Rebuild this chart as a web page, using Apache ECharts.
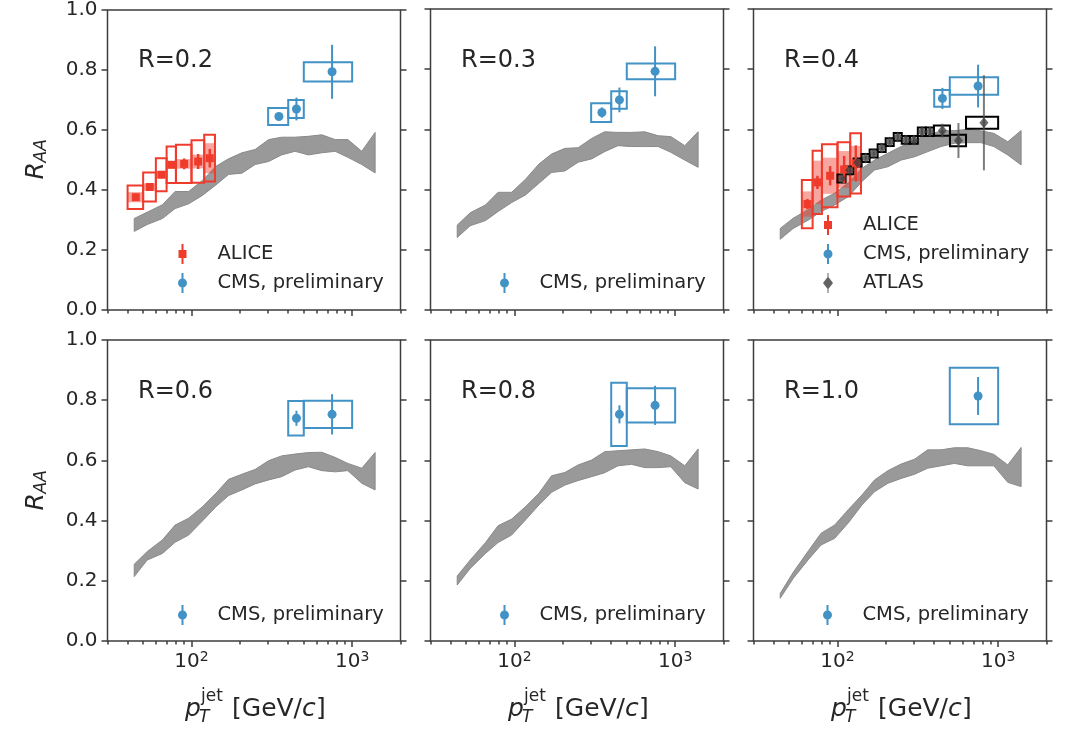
<!DOCTYPE html>
<html><head><meta charset="utf-8">
<script src="https://cdn.jsdelivr.net/npm/echarts@6/dist/echarts.min.js"></script>
<style>html,body{margin:0;padding:0;background:#fff}#c{width:1079px;height:755px}</style>
</head><body><div id="c"></div>
<script>
// ---------- data ----------
const PT_BAND = [44, 53, 66, 79, 96, 117, 142, 170, 206, 249, 302, 364, 441, 534, 647, 784, 940, 1148, 1390];
const BAND_R02_LO = [0.262,0.285,0.305,0.338,0.354,0.382,0.417,0.452,0.456,0.485,0.495,0.517,0.529,0.517,0.524,0.529,0.509,0.485,0.457];
const BAND_R02_HI = [0.305,0.326,0.351,0.395,0.395,0.432,0.479,0.504,0.524,0.535,0.568,0.576,0.576,0.579,0.584,0.568,0.568,0.529,0.592];
const BAND_R03_LO = [0.241,0.280,0.297,0.327,0.357,0.382,0.421,0.457,0.462,0.491,0.502,0.526,0.546,0.543,0.543,0.543,0.524,0.498,0.474];
const BAND_R03_HI = [0.282,0.323,0.349,0.391,0.391,0.434,0.485,0.518,0.537,0.539,0.570,0.592,0.590,0.590,0.592,0.579,0.576,0.546,0.592];
const BAND_R04_LO = [0.235,0.271,0.299,0.327,0.349,0.377,0.427,0.465,0.476,0.498,0.509,0.526,0.543,0.554,0.556,0.556,0.543,0.515,0.482];
const BAND_R04_HI = [0.271,0.305,0.334,0.365,0.388,0.423,0.471,0.498,0.521,0.543,0.565,0.581,0.595,0.596,0.600,0.595,0.587,0.559,0.596];
const BAND_R06_LO = [0.214,0.269,0.291,0.328,0.352,0.399,0.446,0.483,0.502,0.522,0.535,0.546,0.568,0.579,0.566,0.562,0.566,0.524,0.502];
const BAND_R06_HI = [0.255,0.297,0.336,0.385,0.408,0.446,0.491,0.537,0.554,0.570,0.599,0.615,0.621,0.626,0.627,0.610,0.590,0.574,0.626];
const BAND_R08_LO = [0.186,0.241,0.291,0.327,0.352,0.402,0.452,0.494,0.518,0.533,0.546,0.559,0.582,0.587,0.576,0.576,0.579,0.526,0.505];
const BAND_R08_HI = [0.216,0.269,0.327,0.383,0.405,0.446,0.491,0.549,0.560,0.585,0.601,0.629,0.632,0.635,0.638,0.629,0.615,0.582,0.638];
const BAND_R10_LO = [0.142,0.208,0.271,0.319,0.341,0.393,0.452,0.496,0.524,0.540,0.554,0.574,0.582,0.590,0.582,0.582,0.582,0.527,0.513];
const BAND_R10_HI = [0.158,0.228,0.300,0.358,0.385,0.437,0.485,0.535,0.566,0.588,0.604,0.635,0.635,0.642,0.642,0.632,0.620,0.585,0.643];

// CMS (preliminary)
const CMS3_X = [350, 450, 750];
const CMS3_BIN_LO = [300, 400, 500];
const CMS3_BIN_HI = [400, 500, 1000];
const CMS2_X = [450, 750];
const CMS2_BIN_LO = [400, 500];
const CMS2_BIN_HI = [500, 1000];
const CMS1_X = [750];
const CMS1_BIN_LO = [500];
const CMS1_BIN_HI = [1000];
const CMS_R02_Y = [0.645, 0.670, 0.794];
const CMS_R02_STAT = [0.011, 0.038, 0.090];
const CMS_R02_SYS = [0.028, 0.030, 0.032];
const CMS_R03_Y = [0.656, 0.698, 0.793];
const CMS_R03_STAT = [0.017, 0.041, 0.083];
const CMS_R03_SYS = [0.031, 0.029, 0.026];
const CMS_R04_Y = [0.703, 0.744];
const CMS_R04_STAT = [0.035, 0.071];
const CMS_R04_SYS = [0.028, 0.029];
const CMS_R06_Y = [0.740, 0.753];
const CMS_R06_STAT = [0.025, 0.067];
const CMS_R06_SYS = [0.057, 0.045];
const CMS_R08_Y = [0.753, 0.783];
const CMS_R08_STAT = [0.030, 0.065];
const CMS_R08_SYS = [0.105, 0.057];
const CMS_R10_Y = [0.814];
const CMS_R10_STAT = [0.063];
const CMS_R10_SYS = [0.094];

// ALICE
const ALICE_R02_X = [45, 55, 65, 75, 90, 110, 130];
const ALICE_R02_BIN_LO = [40, 50, 60, 70, 80, 100, 120];
const ALICE_R02_BIN_HI = [50, 60, 70, 80, 100, 120, 140];
const ALICE_R02_Y = [0.376, 0.410, 0.451, 0.484, 0.487, 0.495, 0.506];
const ALICE_R02_STAT = [0.005, 0.006, 0.007, 0.010, 0.018, 0.025, 0.031];
const ALICE_R02_SYS = [0.039, 0.048, 0.055, 0.061, 0.064, 0.071, 0.078];
const ALICE_R02_SHAPE = [0.017, 0.012, 0.012, 0.012, 0.016, 0.023, 0.050];
const ALICE_R04_X = [65, 75, 90, 110, 130];
const ALICE_R04_BIN_LO = [60, 70, 80, 100, 120];
const ALICE_R04_BIN_HI = [70, 80, 100, 120, 140];
const ALICE_R04_Y = [0.352, 0.424, 0.446, 0.467, 0.487];
const ALICE_R04_STAT = [0.017, 0.022, 0.032, 0.045, 0.060];
const ALICE_R04_SYS = [0.080, 0.105, 0.105, 0.090, 0.100];
const ALICE_R04_SHAPE = [0.042, 0.072, 0.060, 0.061, 0.058];

// ATLAS
const ATLAS_R04_X = [106.1, 119.1, 133.6, 149.9, 168.2, 188.7, 211.7, 237.6, 266.5, 299.0, 335.5, 376.5, 449.7, 566.1, 815.5];
const ATLAS_R04_BIN_LO = [100, 112.2, 125.9, 141.3, 158.5, 177.8, 199.5, 223.9, 251.2, 281.8, 316.2, 354.8, 398.1, 501.2, 631.0];
const ATLAS_R04_BIN_HI = [112.2, 125.9, 141.3, 158.5, 177.8, 199.5, 223.9, 251.2, 281.8, 316.2, 354.8, 398.1, 501.2, 631.0, 1000];
const ATLAS_R04_Y = [0.437, 0.464, 0.490, 0.505, 0.520, 0.538, 0.558, 0.575, 0.565, 0.565, 0.592, 0.592, 0.596, 0.563, 0.622];
const ATLAS_R04_STAT = [0.006, 0.006, 0.006, 0.006, 0.006, 0.006, 0.007, 0.008, 0.010, 0.010, 0.012, 0.014, 0.023, 0.058, 0.158];
const ATLAS_R04_SYS = [0.013, 0.013, 0.013, 0.013, 0.013, 0.013, 0.013, 0.013, 0.013, 0.013, 0.014, 0.014, 0.017, 0.019, 0.020];

// axes / labels
const PANEL_LABELS = ['R=0.2', 'R=0.3', 'R=0.4', 'R=0.6', 'R=0.8', 'R=1.0'];
const Y_TICKS = [0, 0.2, 0.4, 0.6, 0.8, 1.0];
const X_MAJOR_TICKS = [100, 1000];
const X_MINOR_TICKS = [30, 40, 50, 60, 70, 80, 90, 200, 300, 400, 500, 600, 700, 800, 900, 2000];
const X_MIN = 30, X_MAX = 2000;

// ---------- layout / style ----------
const COL_LEFT = [107.5, 430.5, 753.5];
const ROW_TOP = [9, 340];
const GRID_W = 293, GRID_H = 301;
const FONT = 'DejaVu Sans';
const TXT = '#262626';
const AXC = '#3d3d3d';
const RED = '#ef3b2c', BLUE = '#4292c6', ATLAS_C = 'rgba(60,60,60,0.75)';
const LEGEND_POS = [[178, 244], [500, 273], [823, 215], [178, 605], [500, 605], [823, 605]];
const ICONS = {
  'ALICE': 'path://M8,0 H12 V12 H18 V28 H12 V40 H8 V28 H2 V12 H8 Z',
  'CMS, preliminary': 'path://M8,0 H12 V40 H8 Z M10,11 A9,9 0 1,1 10,29 A9,9 0 1,1 10,11 Z',
  'ATLAS': 'path://M9,0 H11 V40 H9 Z M10,7 L20,20 L10,33 L0,20 Z'
};
const LEG_COLORS = {'ALICE': RED, 'CMS, preliminary': BLUE, 'ATLAS': 'rgba(70,70,70,0.85)'};

const PANELS = [
  {band: [BAND_R02_LO, BAND_R02_HI], cms: [CMS3_X, CMS3_BIN_LO, CMS3_BIN_HI, CMS_R02_Y, CMS_R02_STAT, CMS_R02_SYS],
   alice: [ALICE_R02_X, ALICE_R02_BIN_LO, ALICE_R02_BIN_HI, ALICE_R02_Y, ALICE_R02_STAT, ALICE_R02_SYS, ALICE_R02_SHAPE],
   atlas: null, legend: ['ALICE', 'CMS, preliminary']},
  {band: [BAND_R03_LO, BAND_R03_HI], cms: [CMS3_X, CMS3_BIN_LO, CMS3_BIN_HI, CMS_R03_Y, CMS_R03_STAT, CMS_R03_SYS],
   alice: null, atlas: null, legend: ['CMS, preliminary']},
  {band: [BAND_R04_LO, BAND_R04_HI], cms: [CMS2_X, CMS2_BIN_LO, CMS2_BIN_HI, CMS_R04_Y, CMS_R04_STAT, CMS_R04_SYS],
   alice: [ALICE_R04_X, ALICE_R04_BIN_LO, ALICE_R04_BIN_HI, ALICE_R04_Y, ALICE_R04_STAT, ALICE_R04_SYS, ALICE_R04_SHAPE],
   atlas: [ATLAS_R04_X, ATLAS_R04_BIN_LO, ATLAS_R04_BIN_HI, ATLAS_R04_Y, ATLAS_R04_STAT, ATLAS_R04_SYS],
   legend: ['ALICE', 'CMS, preliminary', 'ATLAS']},
  {band: [BAND_R06_LO, BAND_R06_HI], cms: [CMS2_X, CMS2_BIN_LO, CMS2_BIN_HI, CMS_R06_Y, CMS_R06_STAT, CMS_R06_SYS],
   alice: null, atlas: null, legend: ['CMS, preliminary']},
  {band: [BAND_R08_LO, BAND_R08_HI], cms: [CMS2_X, CMS2_BIN_LO, CMS2_BIN_HI, CMS_R08_Y, CMS_R08_STAT, CMS_R08_SYS],
   alice: null, atlas: null, legend: ['CMS, preliminary']},
  {band: [BAND_R10_LO, BAND_R10_HI], cms: [CMS1_X, CMS1_BIN_LO, CMS1_BIN_HI, CMS_R10_Y, CMS_R10_STAT, CMS_R10_SYS],
   alice: null, atlas: null, legend: ['CMS, preliminary']}
];

// ---------- series builders ----------
function bandSeries(i, lo, hi) {
  const rows = PT_BAND.map((x, k) => [x, lo[k], hi[k]]);
  return {
    type: 'custom', name: 'band' + i, xAxisIndex: 3 * i, yAxisIndex: 2 * i, z: 1, silent: true,
    data: rows, encode: {x: 0, y: [1, 2]},
    renderItem(params, api) {
      if (params.dataIndex !== 0) return null;
      const up = rows.map(r => api.coord([r[0], r[2]]));
      const dn = rows.map(r => api.coord([r[0], r[1]])).reverse();
      return {type: 'polygon', shape: {points: up.concat(dn)},
        style: {fill: '#999999', stroke: '#8a8a8a', lineWidth: 1}};
    }
  };
}
function boxSeries(i, name, blo, bhi, y, err, style, z) {
  return {
    type: 'custom', name: name, xAxisIndex: 3 * i, yAxisIndex: 2 * i, z: z, silent: true,
    data: y.map((v, k) => [blo[k], bhi[k], v - err[k], v + err[k]]),
    encode: {x: [0, 1], y: [2, 3]},
    renderItem(params, api) {
      const a = api.coord([api.value(0), api.value(3)]);
      const b = api.coord([api.value(1), api.value(2)]);
      return {type: 'rect', shape: {x: a[0], y: a[1], width: b[0] - a[0], height: b[1] - a[1]}, style: style};
    }
  };
}
function errSeries(i, name, x, y, err, color, width, z) {
  return {
    type: 'custom', name: name, xAxisIndex: 3 * i, yAxisIndex: 2 * i, z: z, silent: true,
    data: y.map((v, k) => [x[k], v - err[k], v + err[k]]),
    encode: {x: 0, y: [1, 2]},
    renderItem(params, api) {
      const a = api.coord([api.value(0), api.value(1)]);
      const b = api.coord([api.value(0), api.value(2)]);
      return {type: 'line', shape: {x1: a[0], y1: a[1], x2: b[0], y2: b[1]}, style: {stroke: color, lineWidth: width}};
    }
  };
}
function markerSeries(i, name, x, y, symbol, size, color, z) {
  return {
    type: 'scatter', name: name, xAxisIndex: 3 * i, yAxisIndex: 2 * i, z: z, silent: true,
    data: y.map((v, k) => [x[k], v]), symbol: symbol, symbolSize: size,
    itemStyle: {color: color, opacity: 1}
  };
}

const grids = [], xAxes = [], yAxes = [], series = [], legends = [], graphics = [];
const tickStyle = {color: AXC, width: 1.5};

PANELS.forEach((p, i) => {
  const row = Math.floor(i / 3), col = i % 3;
  const bottom = row === 1;
  grids.push({left: COL_LEFT[col], top: ROW_TOP[row], width: GRID_W, height: GRID_H,
    show: true, borderColor: AXC, borderWidth: 1.5, backgroundColor: 'transparent'});
  // data axis (log)
  xAxes.push({type: 'log', logBase: 10, gridIndex: i, min: X_MIN, max: X_MAX, show: false});
  // major ticks + labels
  xAxes.push({type: 'value', gridIndex: i, position: 'bottom', min: Math.log10(X_MIN), max: Math.log10(X_MAX),
    axisLine: {show: false}, splitLine: {show: false},
    axisTick: {show: true, length: 6, lineStyle: tickStyle, customValues: X_MAJOR_TICKS.map(Math.log10)},
    axisLabel: {show: bottom, customValues: X_MAJOR_TICKS.map(Math.log10), margin: 9,
      formatter: v => '{b|10}{s|' + Math.round(v) + '}',
      rich: {b: {fontSize: 20, color: TXT, fontFamily: FONT, lineHeight: 24},
             s: {fontSize: 14, color: TXT, fontFamily: FONT, verticalAlign: 'top', lineHeight: 14}}}});
  // minor ticks
  xAxes.push({type: 'value', gridIndex: i, position: 'bottom', min: Math.log10(X_MIN), max: Math.log10(X_MAX),
    axisLine: {show: false}, splitLine: {show: false}, axisLabel: {show: false},
    axisTick: {show: true, length: 3.5, lineStyle: tickStyle, customValues: X_MINOR_TICKS.map(Math.log10)}});
  yAxes.push({type: 'value', gridIndex: i, position: 'left', min: 0, max: 1, interval: 0.2,
    axisLine: {show: false}, splitLine: {show: false},
    axisTick: {show: true, length: 6, lineStyle: tickStyle},
    axisLabel: {show: col === 0, fontSize: 20, color: TXT, fontFamily: FONT, margin: 10, formatter: v => v.toFixed(1)}});
  yAxes.push({type: 'value', gridIndex: i, position: 'right', min: 0, max: 1, interval: 0.2,
    axisLine: {show: false}, splitLine: {show: false},
    axisTick: {show: true, length: 6, lineStyle: tickStyle}, axisLabel: {show: false}});

  series.push(bandSeries(i, p.band[0], p.band[1]));
  if (p.alice) {
    const [x, lo, hi, y, st, sy, sh] = p.alice;
    series.push(boxSeries(i, 'alice-shape', lo, hi, y, sh, {fill: 'rgba(239,59,44,0.45)', stroke: null, lineWidth: 0}, 2));
    series.push(boxSeries(i, 'alice-sys', lo, hi, y, sy, {fill: null, stroke: RED, lineWidth: 2}, 3));
    series.push(errSeries(i, 'alice-stat', x, y, st, RED, 2.5, 5));
    series.push(markerSeries(i, 'ALICE', x, y, 'rect', 8, RED, 6));
  }
  if (p.atlas) {
    const [x, lo, hi, y, st, sy] = p.atlas;
    series.push(boxSeries(i, 'atlas-sys', lo, hi, y, sy, {fill: null, stroke: '#000', lineWidth: 2}, 3));
    series.push(errSeries(i, 'atlas-stat', x, y, st, 'rgba(80,80,80,0.75)', 2, 5));
    series.push(markerSeries(i, 'ATLAS', x, y, 'diamond', [9, 11], ATLAS_C, 6));
  }
  {
    const [x, lo, hi, y, st, sy] = p.cms;
    series.push(boxSeries(i, 'cms-sys', lo, hi, y, sy, {fill: null, stroke: BLUE, lineWidth: 2}, 4));
    series.push(errSeries(i, 'cms-stat', x, y, st, BLUE, 2, 5));
    series.push(markerSeries(i, 'CMS, preliminary', x, y, 'circle', 9, BLUE, 6));
  }
  legends.push({left: LEGEND_POS[i][0], top: LEGEND_POS[i][1], orient: 'vertical', padding: 0,
    itemWidth: 60, itemHeight: 20, itemGap: 9, selectedMode: false, symbolKeepAspect: true,
    textStyle: {fontSize: 19.5, color: TXT, fontFamily: FONT, lineHeight: 20},
    data: p.legend.map(n => ({name: n, icon: ICONS[n], itemStyle: {color: LEG_COLORS[n]}}))});
  graphics.push({type: 'text', x: COL_LEFT[col] + 30.5, y: ROW_TOP[row] + 52, silent: true,
    style: {text: PANEL_LABELS[i], fontSize: 24, fontFamily: FONT, fill: TXT,
      align: 'left', verticalAlign: 'middle', textAlign: 'left', textVerticalAlign: 'middle'}});
});

function txt(x, y, s, size, italic) {
  return {type: 'text', x: x, y: y, silent: true,
    style: {text: s, fontSize: size, fontFamily: FONT, fontStyle: italic ? 'italic' : 'normal', fill: TXT,
      align: 'left', verticalAlign: 'middle', textAlign: 'left', textVerticalAlign: 'middle'}};
}
// x-axis titles
COL_LEFT.forEach(l => {
  const x0 = l + GRID_W / 2 - 69;
  graphics.push(txt(x0, 709, 'p', 25, true));
  graphics.push(txt(x0 + 14, 718, 'T', 17, true));
  graphics.push(txt(x0 + 16, 697, 'jet', 17, false));
  graphics.push(txt(x0 + 47, 709, '[GeV/', 25, false));
  graphics.push(txt(x0 + 47 + 70, 709, 'c', 25, true));
  graphics.push(txt(x0 + 47 + 84, 709, ']', 25, false));
});
// y-axis titles
ROW_TOP.forEach(t => {
  graphics.push({type: 'group', x: 36, y: t + GRID_H / 2, rotation: Math.PI / 2, silent: true,
    children: [txt(-20, 0, 'R', 25, true), txt(-3, 6, 'AA', 17, true)]});
});

const chart = echarts.init(document.getElementById('c'), null, {renderer: 'canvas'});
chart.setOption({
  animation: false,
  backgroundColor: '#ffffff',
  textStyle: {fontFamily: FONT},
  grid: grids, xAxis: xAxes, yAxis: yAxes, series: series, legend: legends, graphic: graphics
});
</script></body></html>
